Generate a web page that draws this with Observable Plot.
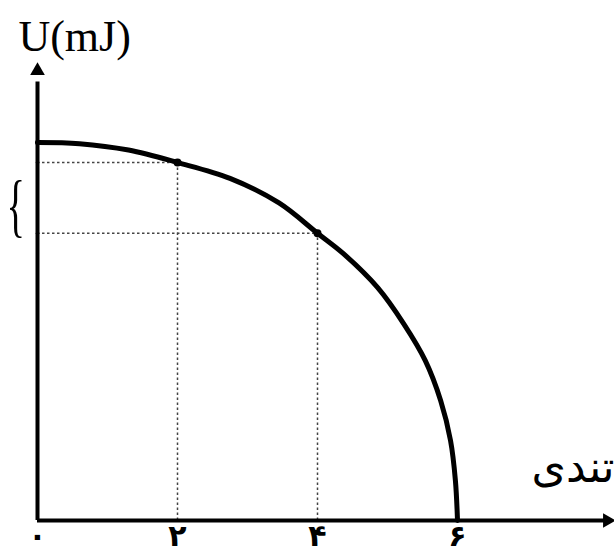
<!DOCTYPE html>
<html>
<head>
<meta charset="utf-8">
<script src="https://cdn.jsdelivr.net/npm/d3@7"></script>
<script src="https://cdn.jsdelivr.net/npm/@observablehq/plot@0.6"></script>
<style>
  html, body { margin: 0; padding: 0; background: #fff; overflow: hidden; }
  svg { display: block; }
</style>
</head>
<body>
<div id="chart"></div>
<script>
// Values (speed in axis units, U as % of its maximum)
const speedTicks = [0, 2, 4, 6];
const speedTickLabels = ["۰", "۲", "۴", "۶"];
const curveSpeed = [0, 0.6, 1.3, 2, 2.75, 3.45, 4, 4.37, 4.86, 5.23, 5.54, 5.76, 5.9, 5.97, 6];
const curveU =     [100, 99.7, 98, 94.7, 90.5, 84, 76, 70.6, 61.6, 52.1, 42.3, 31.7, 21.2, 10.6, 0];
const markedSpeed = [2, 4];
const markedU = [94.7, 76];
const yLabel = "U(mJ)";
const xLabel = "تندی";

const curve = curveSpeed.map((v, i) => ({v, u: curveU[i]}));
const marked = markedSpeed.map((v, i) => ({v, u: markedU[i]}));
const ticks = speedTicks.map((v, i) => ({v, label: speedTickLabels[i]}));

const dash = {stroke: "#444", strokeWidth: 1.5, strokeDasharray: "2.5,2.5"};

const plot = Plot.plot({
  width: 614,
  height: 557,
  marginLeft: 37,
  marginRight: 0,
  marginTop: 0,
  marginBottom: 37,
  x: {domain: [0, 577 / 70], axis: null},
  y: {domain: [0, 520 / 3.78], axis: null},
  style: {background: "#fff"},
  marks: [
    // dashed guides
    Plot.ruleY(marked, {y: "u", x1: 0, x2: "v", ...dash}),
    Plot.ruleX(marked, {x: "v", y1: 0, y2: "u", ...dash}),
    Plot.dot(marked, {x: 0, y: "u", r: 1.8, fill: "#444"}),
    // axes
    Plot.ruleY([0], {x1: 0, x2: 8.1, stroke: "#000", strokeWidth: 4}),
    Plot.ruleX([0], {y1: 0, y2: 116, stroke: "#000", strokeWidth: 4}),
    Plot.dot([0], {x: 8.14, y: 0, symbol: "triangle2", r: 7, fill: "#000", rotate: 90}),
    Plot.dot([0], {x: 0, y: 119, symbol: "triangle2", r: 7, fill: "#000", rotate: 0}),
    // curve
    Plot.line(curve, {x: "v", y: "u", curve: "catmull-rom", stroke: "#000", strokeWidth: 5}),
    Plot.dot(marked, {x: "v", y: "u", r: 4, fill: "#000"}),
    // tick labels
    Plot.text(ticks, {x: "v", y: 0, text: "label", lineAnchor: "top", dy: 4, fontSize: 30, fontWeight: "bold", fontFamily: "DejaVu Sans", fill: "#000"}),
    // axis labels
    Plot.text([yLabel], {x: 0.53, y: 128, text: (d) => d, fontSize: 44, fontFamily: "Liberation Serif", fill: "#000"}),
    Plot.text([xLabel], {x: 7.65, y: 14, text: (d) => d, fontSize: 44, fontFamily: "DejaVu Sans", fill: "#000"}),
    // brace
    Plot.text(["{"], {x: -0.31, y: 83, text: (d) => d, fontSize: 70, fontFamily: "Liberation Serif", fontWeight: 300, fill: "#000"})
  ]
});

document.getElementById("chart").appendChild(plot);
// make the brace narrow like the reference
d3.select(plot).selectAll("text").filter(function() { return this.textContent === "{"; })
  .each(function() {
    const t = d3.select(this);
    const x = +t.attr("x") || 0, y = +t.attr("y") || 0;
    const tr = t.attr("transform") || "";
    t.attr("transform", tr + ` translate(${x},${y}) scale(0.55,1) translate(${-x},${-y})`);
  });
</script>
</body>
</html>
